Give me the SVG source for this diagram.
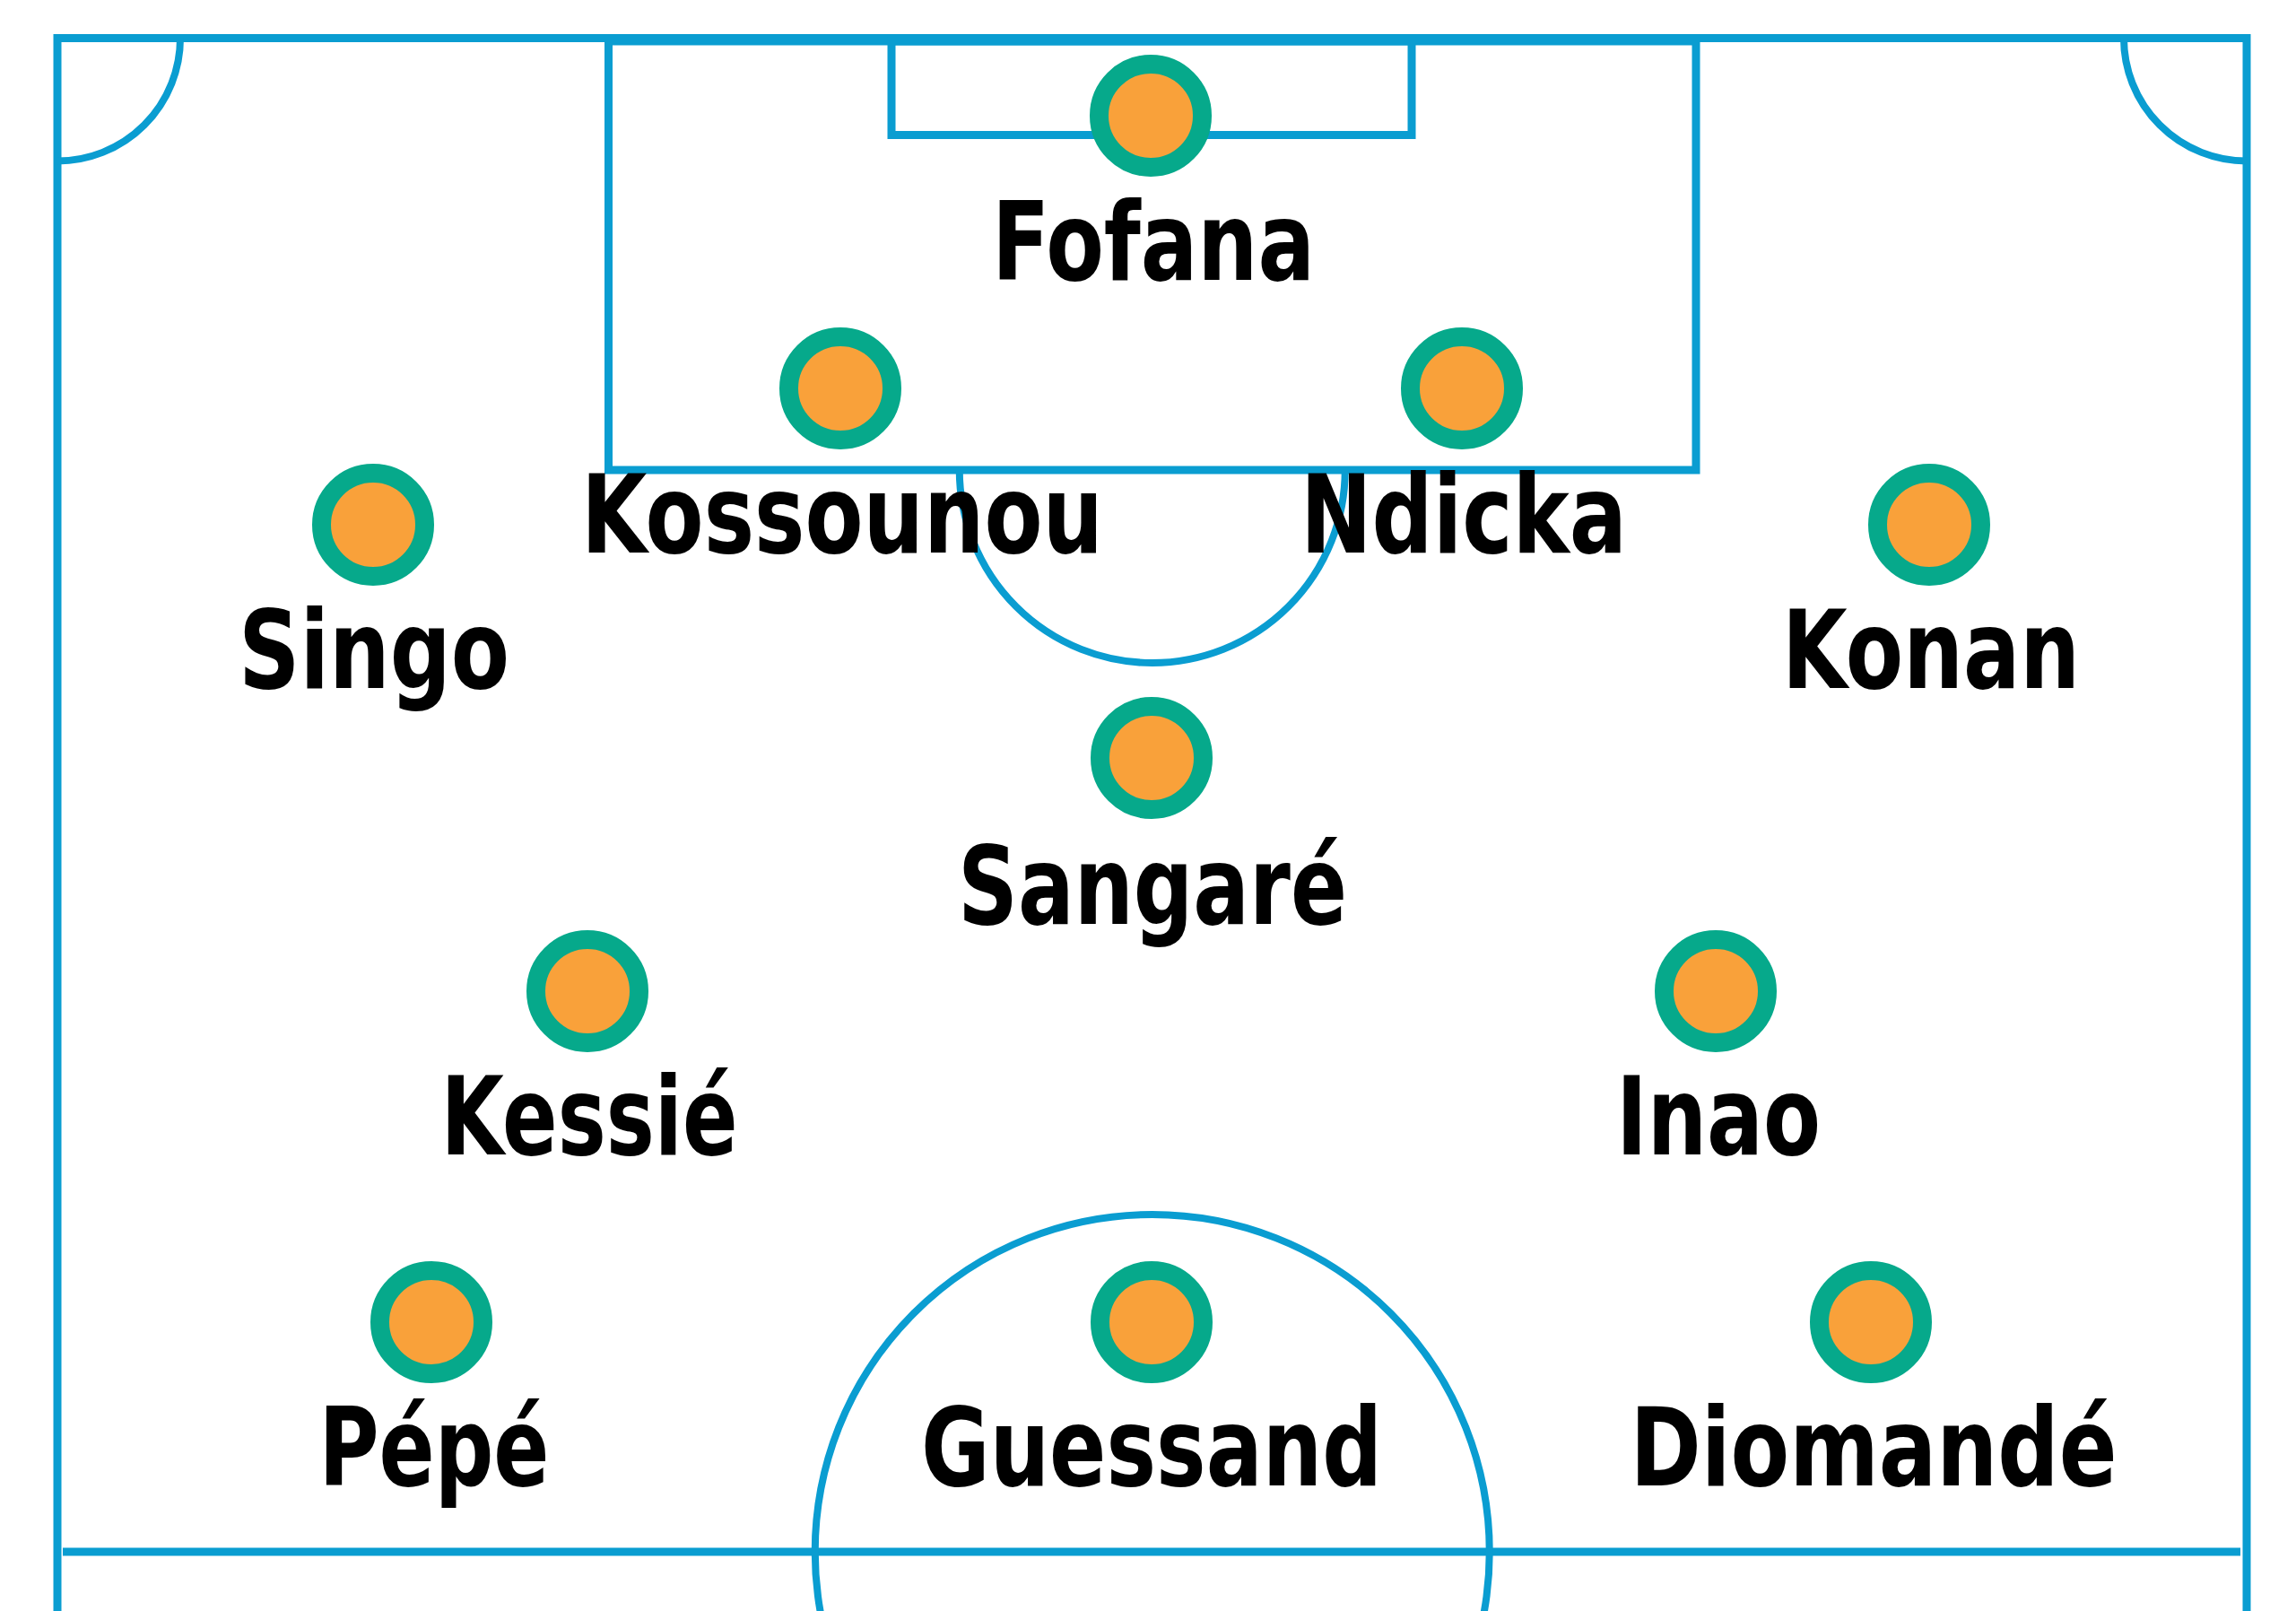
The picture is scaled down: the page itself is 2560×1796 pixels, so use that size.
<svg xmlns="http://www.w3.org/2000/svg" width="2560" height="1796" viewBox="0 0 2560 1796">
  <style>
    .line { fill: none; stroke: #0A9DD1; stroke-width: 9; }
    .arc { fill: none; stroke: #0A9DD1; stroke-width: 8; }
    .dot { fill: #F9A13A; stroke: #06A98B; stroke-width: 21; }
    .name { font-family: "DejaVu Sans Condensed", "Liberation Sans Narrow", "DejaVu Sans", sans-serif; font-weight: bold; font-size: 121px; fill: #000; text-anchor: middle; }
  </style>
  <rect x="0" y="0" width="2560" height="1796" fill="#ffffff"/>
  <g id="pitch">
    <path class="line" d="M64 1796 V42.5 H2505 V1796"/>
    <rect class="line" x="678.5" y="46" width="1212.5" height="478"/>
    <rect class="line" x="994" y="46" width="580" height="104.5"/>
    <line class="line" x1="70" y1="1730" x2="2498" y2="1730"/>
    <path class="arc" d="M201 42.5 A137 137 0 0 1 64 179.5"/>
    <path class="arc" d="M2368 42.5 A137 137 0 0 0 2505 179.5"/>
    <path class="arc" d="M1069.75 524 A215 215 0 0 0 1499.75 524"/>
    <circle class="arc" cx="1284.75" cy="1730" r="376"/>
  </g>
  <g id="connectors"></g>
  <g id="fofana"><circle class="dot" cx="1283" cy="129" r="57.5"/><text class="name" x="1286" y="312" textLength="360" lengthAdjust="spacingAndGlyphs">Fofana</text></g>
  <g id="kossounou"><circle class="dot" cx="937" cy="433" r="57.5"/><text class="name" x="939" y="616" textLength="582" lengthAdjust="spacingAndGlyphs">Kossounou</text></g>
  <g id="ndicka"><circle class="dot" cx="1630" cy="433" r="57.5"/><text class="name" x="1632" y="616" textLength="364" lengthAdjust="spacingAndGlyphs">Ndicka</text></g>
  <g id="singo"><circle class="dot" cx="416" cy="585" r="57.5"/><text class="name" x="417" y="767" textLength="302" lengthAdjust="spacingAndGlyphs">Singo</text></g>
  <g id="konan"><circle class="dot" cx="2151" cy="585" r="57.5"/><text class="name" x="2153" y="767" textLength="332" lengthAdjust="spacingAndGlyphs">Konan</text></g>
  <g id="sangare"><circle class="dot" cx="1284" cy="845" r="57.5"/><text class="name" x="1285" y="1030" textLength="434" lengthAdjust="spacingAndGlyphs">Sangaré</text></g>
  <g id="kessie"><circle class="dot" cx="655" cy="1105" r="57.5"/><text class="name" x="657" y="1287" textLength="331" lengthAdjust="spacingAndGlyphs">Kessié</text></g>
  <g id="inao"><circle class="dot" cx="1913" cy="1105" r="57.5"/><text class="name" x="1916" y="1287" textLength="228" lengthAdjust="spacingAndGlyphs">Inao</text></g>
  <g id="pepe"><circle class="dot" cx="481" cy="1474" r="57.5"/><text class="name" x="484" y="1656" textLength="257" lengthAdjust="spacingAndGlyphs">Pépé</text></g>
  <g id="guessand"><circle class="dot" cx="1284" cy="1474" r="57.5"/><text class="name" x="1284" y="1656" textLength="514" lengthAdjust="spacingAndGlyphs">Guessand</text></g>
  <g id="diomande"><circle class="dot" cx="2086" cy="1474" r="57.5"/><text class="name" x="2089" y="1656" textLength="543" lengthAdjust="spacingAndGlyphs">Diomandé</text></g>
</svg>
